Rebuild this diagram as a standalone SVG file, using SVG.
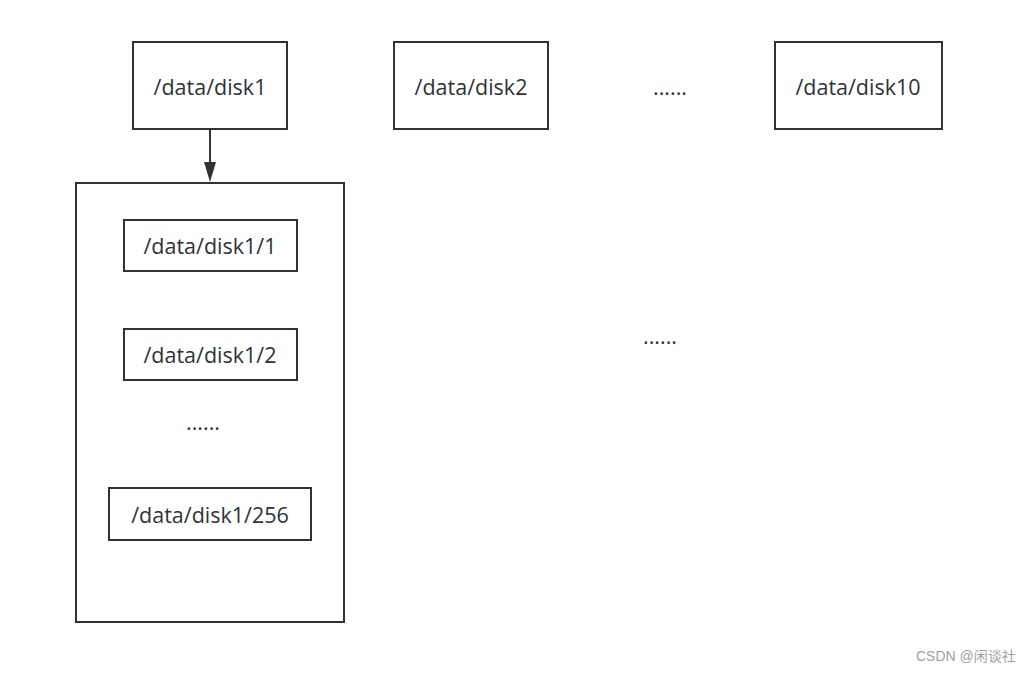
<svg xmlns="http://www.w3.org/2000/svg" width="1031" height="673" viewBox="0 0 1031 673">
<style>
.box{fill:#fff;stroke:#2f3337;stroke-width:2}
.t{font-family:"Open Sans","Noto Sans",sans-serif;font-size:21.5px;fill:#2f3337;text-anchor:middle;dominant-baseline:central}
.wm{font-family:"Liberation Sans","Noto Sans CJK SC",sans-serif;font-size:14px;fill:#a0a0a0}
.arrow{fill:#2f3337}
</style>
<rect width="1031" height="673" fill="#fff"/>
<g id="container"><rect class="box" x="76" y="183" width="268" height="439"/></g>
<g id="disk1"><rect class="box" x="133" y="42" width="154" height="87"/><text class="t" x="210" y="86">/data/disk1</text></g>
<g id="disk2"><rect class="box" x="394" y="42" width="154" height="87"/><text class="t" x="471" y="86">/data/disk2</text></g>
<g id="dots-top"><text class="t" x="670" y="86">......</text></g>
<g id="disk10"><rect class="box" x="775" y="42" width="167" height="87"/><text class="t" x="858" y="86">/data/disk10</text></g>
<g id="disk1-1"><rect class="box" x="124" y="220" width="173" height="51"/><text class="t" x="210" y="245">/data/disk1/1</text></g>
<g id="disk1-2"><rect class="box" x="124" y="329" width="173" height="51"/><text class="t" x="210" y="354">/data/disk1/2</text></g>
<g id="dots-inner"><text class="t" x="203" y="421">......</text></g>
<g id="disk1-256"><rect class="box" x="109" y="488" width="202" height="52"/><text class="t" x="210" y="514">/data/disk1/256</text></g>
<g id="dots-mid"><text class="t" x="660" y="335">......</text></g>
<g id="connectors">
<path d="M210,129 L210,168" stroke="#2f3337" stroke-width="2" fill="none"/>
<path class="arrow" d="M204,162 L216,162 L210,182 Z"/>
</g>
<text class="wm" x="916" y="661">CSDN @闲谈社</text>
</svg>
